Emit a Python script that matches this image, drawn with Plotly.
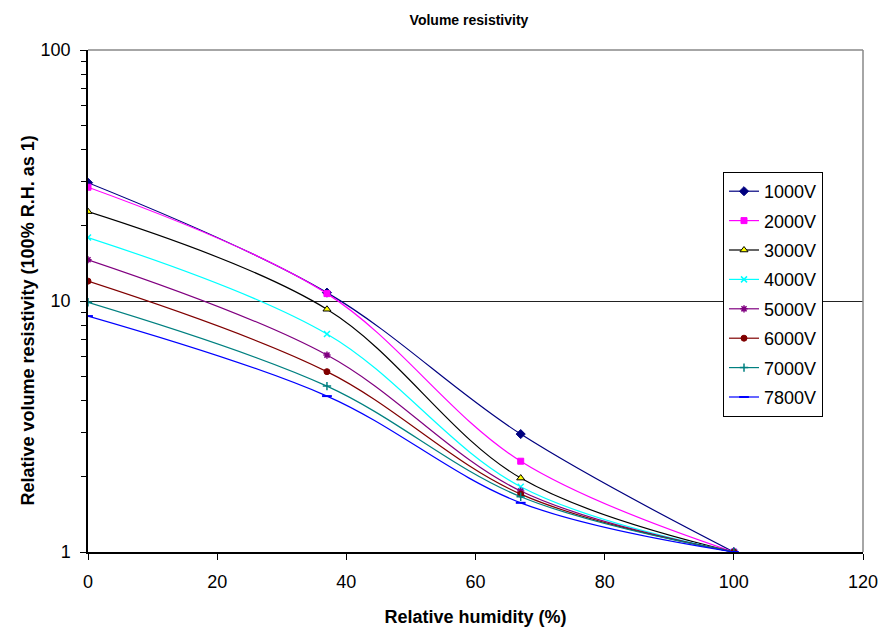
import plotly.graph_objects as go

humidity = [0, 37, 67, 100]
series_names = ["1000V", "2000V", "3000V", "4000V", "5000V", "6000V", "7000V", "7800V"]
v1000 = [29.6, 10.8, 2.95, 1.0]
v2000 = [28.4, 10.7, 2.30, 1.0]
v3000 = [22.7, 9.27, 1.97, 1.0]
v4000 = [17.9, 7.39, 1.82, 1.0]
v5000 = [14.6, 6.09, 1.75, 1.0]
v6000 = [12.0, 5.23, 1.70, 1.0]
v7000 = [9.88, 4.58, 1.66, 1.0]
v7800 = [8.71, 4.18, 1.57, 1.0]
values = [v1000, v2000, v3000, v4000, v5000, v6000, v7000, v7800]

x_ticks = [0, 20, 40, 60, 80, 100, 120]
Y_RANGE_LOG = [0, 2]   # 1 .. 100

line_colors = ["#000080", "#FF00FF", "#000000", "#00FFFF", "#800080", "#800000", "#008080", "#0000FF"]
marker_colors = ["#000080", "#FF00FF", "#FFFF00", "#00FFFF", "#800080", "#800000", "#008080", "#0000FF"]
marker_line = ["#000080", "#FF00FF", "#000000", "#00FFFF", "#800080", "#800000", "#008080", "#0000FF"]
symbols = ["diamond", "square", "triangle-up", "x-thin", "asterisk", "circle", "cross-thin", "line-ew"]
sizes = [7, 6, 7, 6, 6, 6, 6, 7]
mline_w = [1, 1, 1, 1.5, 1.5, 1, 1.5, 2]

FONT = "Liberation Sans, Arial, sans-serif"

# figure is drawn inside the page body with an 8px default margin
W, H = 878, 620
L, T = 80, 42
PW, PH = 775, 502

fig = go.Figure()
for i, name in enumerate(series_names):
    fig.add_trace(go.Scatter(
        x=humidity, y=values[i], name=name, mode="lines+markers",
        legendgroup=name,
        line=dict(color=line_colors[i], width=1.2, shape="spline", smoothing=1.0),
        marker=dict(symbol=symbols[i], size=sizes[i], color=marker_colors[i],
                    line=dict(color=marker_line[i], width=mline_w[i])),
    ))

fig.update_layout(
    width=W, height=H,
    margin=dict(l=L, r=W - L - PW, t=T, b=H - T - PH, autoexpand=False),
    paper_bgcolor="white", plot_bgcolor="white",
    font=dict(family=FONT, size=18, color="black"),
    title=dict(text="<b>Volume resistivity</b>", x=461/W, xref="container", xanchor="center",
               y=1 - 12.5/H, yref="container", yanchor="middle",
               font=dict(family=FONT, size=14)),
    showlegend=True,
    legend=dict(x=(723-88)/PW, y=(552-172)/PH, xanchor="left", yanchor="top",
                bordercolor="black", borderwidth=1, bgcolor="white",
                font=dict(family=FONT, size=18), tracegroupgap=3, itemwidth=30),
    xaxis=dict(range=[0, 120], tickvals=x_ticks, ticktext=[str(v) for v in x_ticks],
               showline=True, linecolor="black", linewidth=1.5,
               ticks="outside", ticklen=6, tickcolor="black", showgrid=False, zeroline=False,
               tickfont=dict(size=18), ticklabelstandoff=7,
               title=dict(text="<b>Relative humidity (%)</b>", font=dict(size=18), standoff=19)),
    yaxis=dict(type="log", range=Y_RANGE_LOG, tickmode="linear", tick0=0, dtick=1,
               showline=True, linecolor="black", linewidth=1.5,
               ticks="outside", ticklen=6, tickcolor="black",
               showgrid=True, gridcolor="#222222", gridwidth=1, zeroline=False,
               tickfont=dict(size=18), ticklabelstandoff=6,
               minor=dict(dtick="D1", ticks="outside", ticklen=5, tickcolor="black",
                          tickwidth=1, showgrid=False)),
    annotations=[
        dict(text="<b>Relative volume resistivity (100% R.H. as 1)</b>", textangle=-90,
             xref="paper", yref="paper", x=(27.5-88)/PW, y=(552-321)/PH,
             xanchor="center", yanchor="middle", showarrow=False,
             font=dict(family=FONT, size=18, color="black")),
    ],
    shapes=[
        dict(type="line", xref="paper", yref="paper", x0=0, x1=1, y0=1, y1=1,
             line=dict(color="#888888", width=1.5), layer="above"),
        dict(type="line", xref="paper", yref="paper", x0=1, x1=1, y0=0, y1=1,
             line=dict(color="#888888", width=1.5), layer="above"),
    ],
)

fig.write_html("out.html")
